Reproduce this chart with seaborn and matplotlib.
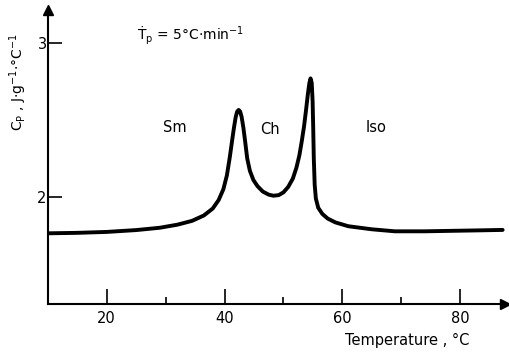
import matplotlib
matplotlib.use("Agg")
import matplotlib.pyplot as plt
import seaborn as sns
import pandas as pd
from matplotlib.ticker import FixedLocator

# ---- data ----
temperature = [10.04, 15.0, 20.0, 25.0, 29.0, 32.0, 34.5, 36.5, 38.0, 39.0, 39.8, 40.4,
               40.9, 41.3, 41.6, 41.9, 42.15, 42.4, 42.65, 42.9, 43.2, 43.5, 43.85,
               44.3, 44.9, 45.6, 46.5, 47.5, 48.3, 49.2, 50.0, 50.8, 51.6, 52.2, 52.7,
               53.1, 53.5, 53.85, 54.15, 54.4, 54.6, 54.8, 54.95, 55.05, 55.15, 55.3,
               55.5, 55.9, 56.6, 57.5, 58.8, 61.0, 65.0, 68.9, 74.0, 78.4, 83.0, 87.2]
cp = [1.764, 1.767, 1.773, 1.785, 1.80, 1.82, 1.845, 1.88, 1.925, 1.98, 2.05, 2.14,
      2.26, 2.37, 2.45, 2.52, 2.555, 2.565, 2.555, 2.52, 2.45, 2.36, 2.25,
      2.17, 2.11, 2.07, 2.035, 2.015, 2.008, 2.012, 2.03, 2.065, 2.12, 2.19, 2.27,
      2.36, 2.46, 2.57, 2.67, 2.74, 2.77, 2.74, 2.62, 2.45, 2.25, 2.08,
      1.99, 1.93, 1.89, 1.86, 1.835, 1.81, 1.79, 1.777, 1.777, 1.78, 1.783, 1.786]
x_major = [20, 40, 60, 80]
x_minor = [30, 50, 70]
y_major = [2, 3]
phase_labels = ["Sm", "Ch", "Iso"]
phase_x = [31.6, 47.7, 65.7]
phase_y = [2.45, 2.435, 2.45]

df = pd.DataFrame({"T": temperature, "Cp": cp})

sns.set_style("ticks")
plt.rcParams["font.family"] = ["DejaVu Sans"]
plt.rcParams["mathtext.default"] = "regular"
plt.rcParams["text.color"] = "black"
plt.rcParams["xtick.color"] = "black"
plt.rcParams["ytick.color"] = "black"
plt.rcParams["xtick.labelcolor"] = "black"
plt.rcParams["ytick.labelcolor"] = "black"

W, H = 509, 352
fig = plt.figure(figsize=(W / 100, H / 100), dpi=100)
ax = fig.add_axes([48 / W, 48 / H, (505 - 48) / W, (304 - 10) / H])

sns.lineplot(data=df, x="T", y="Cp", sort=False, color="black", lw=2.8, ax=ax,
             estimator=None, solid_capstyle="round", solid_joinstyle="round")

ax.set_xlim(10.04, 87.6)
ax.set_ylim(1.305, 3.214)

for s in ["top", "right"]:
    ax.spines[s].set_visible(False)
for s in ["left", "bottom"]:
    ax.spines[s].set_linewidth(1.5)
    ax.spines[s].set_color("black")

ax.xaxis.set_major_locator(FixedLocator(x_major))
ax.xaxis.set_minor_locator(FixedLocator(x_minor))
ax.yaxis.set_major_locator(FixedLocator(y_major))
ax.tick_params(axis="x", which="major", direction="in", length=11, width=1.2,
               labelsize=10.5, pad=5, colors="black")
ax.tick_params(axis="x", which="minor", direction="in", length=5, width=1.2, colors="black")
ax.tick_params(axis="y", which="major", direction="in", length=10, width=1.2,
               labelsize=10.5, pad=1, colors="black")
ax.set_xlabel("")
ax.set_ylabel("")

# axis arrows
ax.plot(1.0, 0, marker=">", color="black", ms=7, transform=ax.transAxes, clip_on=False)
ax.plot(0, 1.0, marker="^", color="black", ms=7, transform=ax.transAxes, clip_on=False)

for lab, xx, yy in zip(phase_labels, phase_x, phase_y):
    ax.text(xx, yy, lab, ha="center", va="center", fontsize=10.5, color="black")

ax.text(25.1, 3.05, "Ṫ$_p$ = 5°C·min$^{-1}$", ha="left", va="center", fontsize=10,
        color="black")

fig.text(407 / W, 1 - 340 / H, "Temperature , °C", ha="center", va="center",
         fontsize=10.5, color="black")
fig.text(18 / W, 1 - 82 / H, "C$_P$ , J·g$^{-1}$·°C$^{-1}$", ha="center", va="center",
         rotation=90, fontsize=10, color="black")

fig.savefig("out.png", dpi=100)
